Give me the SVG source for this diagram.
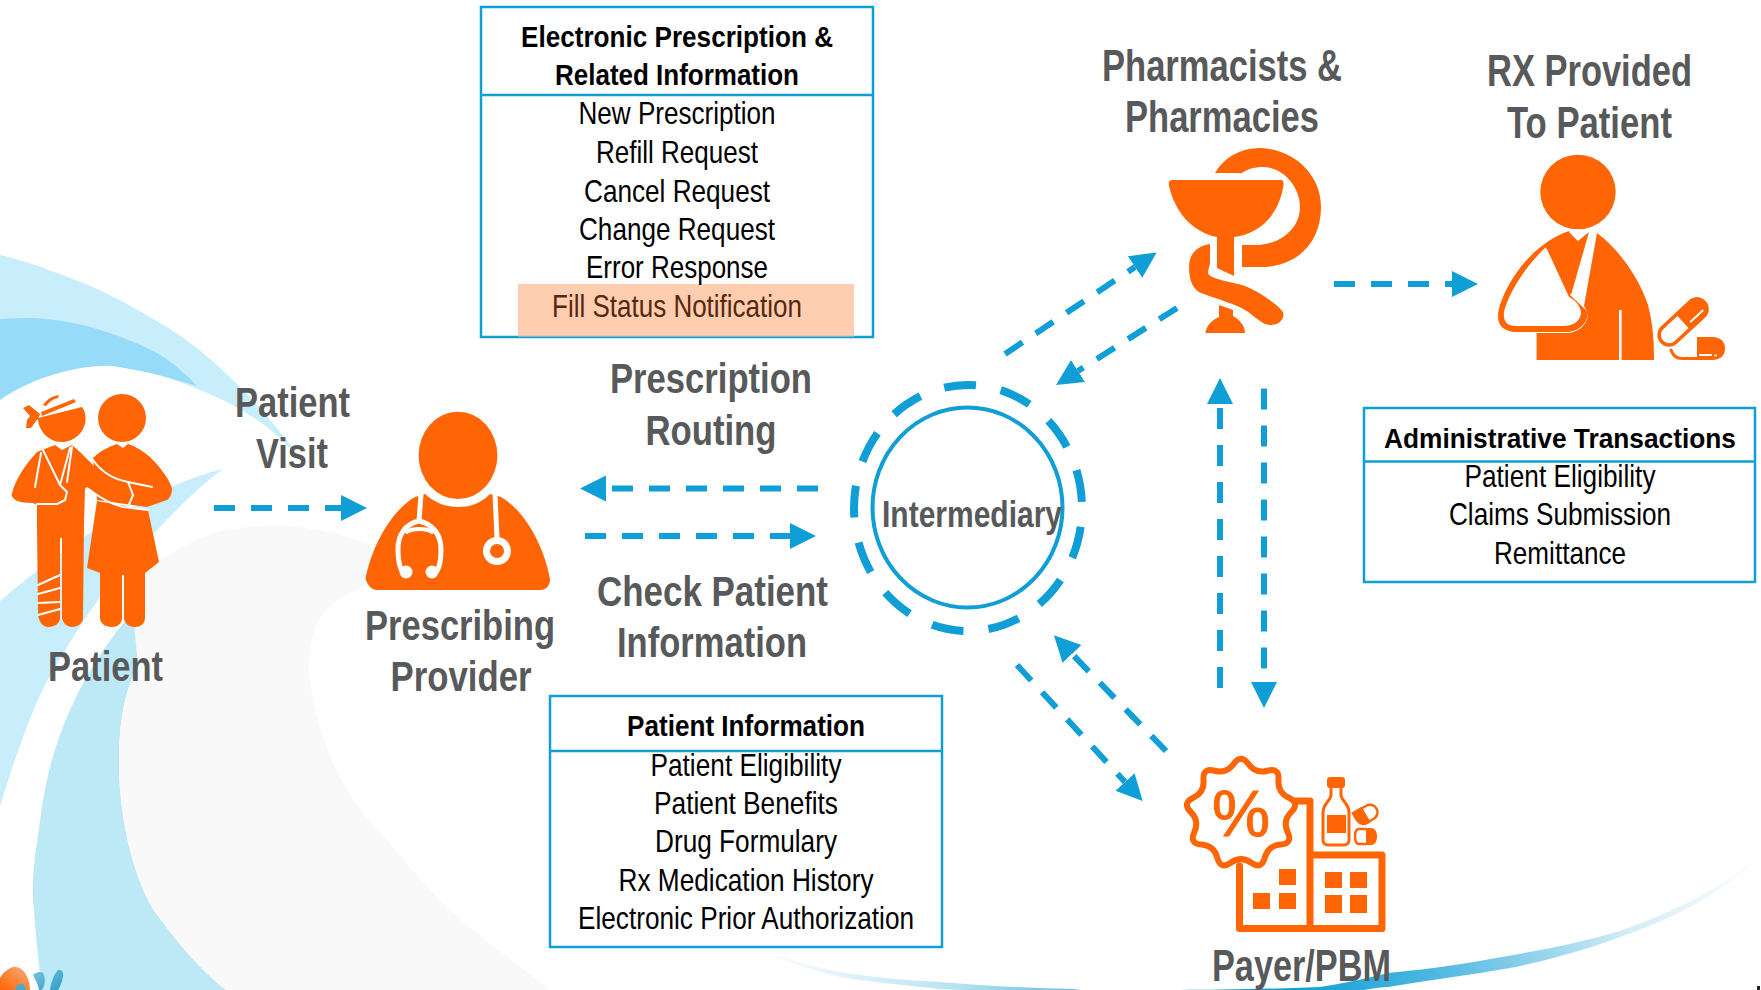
<svg xmlns="http://www.w3.org/2000/svg" width="1761" height="990" viewBox="0 0 1761 990">
<style>
text{font-family:"Liberation Sans",Arial,sans-serif;text-anchor:middle}
.lbl{font-weight:700;font-size:42px;fill:#58595b}
.tall{font-size:45px}
.hd{font-weight:700;font-size:30px;fill:#000}
.it{font-size:32px;fill:#000}
.box{fill:#fff;stroke:#0f9ed5;stroke-width:2.5}
.rule{stroke:#0f9ed5;stroke-width:2.5;fill:none}
.ic{fill:#ff6505}
.icl{fill:none;stroke:#ff6505;stroke-linejoin:round;stroke-linecap:round}
.wl{fill:none;stroke:#fff;stroke-linecap:round;stroke-linejoin:round}
.arr{fill:none;stroke:#0f9ed5;stroke-width:6;stroke-dasharray:21 16;marker-end:url(#head)}
</style>
<defs>
<marker id="head" markerUnits="userSpaceOnUse" markerWidth="28" markerHeight="28" refX="0" refY="13" orient="auto"><path d="M0 0L26 13L0 26Z" fill="#0f9ed5"/></marker>
<linearGradient id="sw" gradientUnits="userSpaceOnUse" x1="1761" y1="855" x2="1200" y2="990"><stop offset="0" stop-color="#fff"/><stop offset=".25" stop-color="#d4edf7"/><stop offset=".6" stop-color="#4db7e0"/><stop offset=".85" stop-color="#0f9ed5"/><stop offset="1" stop-color="#0f9ed5"/></linearGradient>
<linearGradient id="sw2" gradientUnits="userSpaceOnUse" x1="760" y1="950" x2="1100" y2="990"><stop offset="0" stop-color="#fff"/><stop offset=".6" stop-color="#b5e1f2"/><stop offset="1" stop-color="#4db7e0"/></linearGradient>
<linearGradient id="lg" x1="0" y1="0" x2="1" y2="1"><stop offset="0" stop-color="#7cc4de"/><stop offset="1" stop-color="#2b9cc8"/></linearGradient>
<linearGradient id="og" x1="1" y1="0" x2="0" y2="1"><stop offset="0" stop-color="#f8ad7c"/><stop offset="1" stop-color="#ff6505"/></linearGradient>
</defs>
<g id="background">
<path fill="#c8eefc" d="M0 255C30 262 55 272 83 283C110 294 135 308 160 323C190 340 212 360 233 380C260 405 290 445 313 473C300 460 285 441 267 427C245 411 225 400 200 390C170 378 140 366 113 366C85 364 35 375 0 400Z"/>
<path fill="#96dcf8" d="M0 319C12 318 22 318 33 318C55 319 78 323 100 330C120 336 140 344 157 353C172 362 186 374 197 386C182 381 166 377 150 373C137 370 125 368 112 366C85 364 35 375 0 400Z"/>
<path fill="#c8eefc" d="M223 469C150 486 60 550 0 601V807C8 780 30 710 50 676C65 650 80 625 96 603C120 570 180 500 223 469Z"/>
<path fill="#bde8f6" d="M222 546C190 560 170 572 153 589C115 630 95 660 77 695C50 750 44 790 38 836C32 870 32 900 34 909C36 945 40 970 42 990H226C200 970 175 940 153 909C130 870 119 810 119 763C119 720 125 690 138 666C150 640 180 590 222 546Z"/>
<path fill="#f9f9f9" d="M130 579C160 560 190 540 214 533C240 526 260 526 279 526C310 526 345 535 371 545V584C340 595 318 610 312 640C308 660 308 670 310 681C315 715 325 745 333 763C345 790 365 818 383 836C410 865 435 900 459 918C490 945 525 970 551 990H226C200 970 175 940 153 909C130 870 119 810 119 763C119 720 125 690 138 666Z"/>
<path fill="url(#sw)" d="M1761 853C1720 890 1680 908 1631 927C1590 942 1530 952 1485 960C1450 966 1420 970 1388 973C1360 980 1340 984 1320 987C1270 989 1220 990 1180 990H1364C1375 988 1382 987 1388 987C1430 980 1470 975 1510 968C1560 958 1600 945 1631 933C1690 912 1730 885 1761 857Z"/>
<path fill="url(#sw2)" d="M760 950C790 960 815 967 840 972C875 978 905 980 940 982C985 986 1030 988 1073 989L1080 990H960L940 989C905 985 870 982 840 977C810 970 785 960 760 950Z"/>
<path fill="url(#og)" d="M0 978C5 970 12 966 16 967C24 968 30 978 30 990H0Z"/>
<path fill="#4da9cc" d="M15 990C16 986 19 983 23 984C25 986 26 988 26 990Z"/>
<path fill="url(#lg)" d="M33 975C36 972 41 971 43 973C46 978 45 985 42 990H39C38 984 35 979 33 975ZM50 990C51 982 54 974 58 970C62 969 64 973 63 977C62 982 60 987 58 990Z"/>
<rect x="1757" y="986" width="3" height="4" fill="#222"/>
</g>
<g id="box-prescription">
<rect class="box" x="481" y="7" width="392" height="330"/>
<path class="rule" d="M481 95H873"/>
<rect x="518" y="284" width="336" height="53" fill="#ffcdb0"/>
<path d="M518 336.500H854" stroke="#0f9ed5" stroke-opacity=".5" stroke-width="1.500"/>
<text class="hd" x="677" y="47" textLength="312" lengthAdjust="spacingAndGlyphs">Electronic Prescription &amp;</text>
<text class="hd" x="677" y="85" textLength="244" lengthAdjust="spacingAndGlyphs">Related Information</text>
<text class="it" x="677" y="124" textLength="197" lengthAdjust="spacingAndGlyphs">New Prescription</text>
<text class="it" x="677" y="162.500" textLength="162" lengthAdjust="spacingAndGlyphs">Refill Request</text>
<text class="it" x="677" y="202" textLength="186" lengthAdjust="spacingAndGlyphs">Cancel Request</text>
<text class="it" x="677" y="240" textLength="196" lengthAdjust="spacingAndGlyphs">Change Request</text>
<text class="it" x="677" y="278" textLength="182" lengthAdjust="spacingAndGlyphs">Error Response</text>
<text class="it" x="677" y="317" textLength="250" lengthAdjust="spacingAndGlyphs" style="fill:#56280c">Fill Status Notification</text>
</g>
<g id="box-admin">
<rect class="box" x="1364" y="408" width="391" height="174"/>
<path class="rule" d="M1364 461.500H1755"/>
<text class="hd" x="1560" y="448" textLength="352" lengthAdjust="spacingAndGlyphs" style="font-size:28px">Administrative Transactions</text>
<text class="it" x="1560" y="487" textLength="191" lengthAdjust="spacingAndGlyphs">Patient Eligibility</text>
<text class="it" x="1560" y="525" textLength="222" lengthAdjust="spacingAndGlyphs">Claims Submission</text>
<text class="it" x="1560" y="564" textLength="132" lengthAdjust="spacingAndGlyphs">Remittance</text>
</g>
<g id="box-patient-info">
<rect class="box" x="550" y="696" width="392" height="251"/>
<path class="rule" d="M551 751H943"/>
<text class="hd" x="746" y="736" textLength="238" lengthAdjust="spacingAndGlyphs">Patient Information</text>
<text class="it" x="746" y="776" textLength="191" lengthAdjust="spacingAndGlyphs">Patient Eligibility</text>
<text class="it" x="746" y="814" textLength="184" lengthAdjust="spacingAndGlyphs">Patient Benefits</text>
<text class="it" x="746" y="852" textLength="182" lengthAdjust="spacingAndGlyphs">Drug Formulary</text>
<text class="it" x="746" y="891" textLength="255" lengthAdjust="spacingAndGlyphs">Rx Medication History</text>
<text class="it" x="746" y="929" textLength="336" lengthAdjust="spacingAndGlyphs">Electronic Prior Authorization</text>
</g>
<g id="patient">
<path class="ic" d="M38 418L82 407C85 411 85.500 415 85.500 419C85.500 432 74 442 61.500 442C49 442 38 431 38 418Z"/>
<path class="ic" d="M23 408L29 405L40 414L38 419L36 421L31 428L26 428L27 420L30 416Z"/>
<path class="ic" d="M41 412L74 399L76 402L42 416ZM43 405C46 400 52 396 59 395L58 398C53 399 49 402 46 406Z"/>
<circle class="ic" cx="122" cy="418" r="24"/>
<path class="ic" d="M93 458C100 451 108 447 117 444L123 448L128 444C137 447 144 452 150 457C160 467 168 477 172 488C172 494 170 498 167 500L147 507L97 500Z"/>
<path class="ic" d="M97 501L148 510L159 562L145 573V618C145 624 140 627 135 627C129 627 124 623 124 618V575H122V618C122 624 117 627 112 627C105 627 100 623 100 618V573L87 568Z"/>
<path class="ic" d="M37 452C25 465 15 480 11.500 495C13 500 18 503 33 503L37 505V525L38 615C39 622 43 627 48 627C55 627 60 623 60 618V538H62V618C63 623 67 627 72 627C78 627 83 623 83 618L84 525L85 488L100 497C110 500 116 503 123 503C128 502 130 498 130 496L128 488C117 484 108 479 100 472L80 452L72 445L62 450L55 445Z"/>
<path class="wl" stroke-width="2" d="M41 453L35 487M43 450L60 485L70 448M72 447L67 482M60 485L67 492L65 500L57 504H37M93 460C100 470 112 479 128 482L152 487M128 482L133 495L128 507M87 488C100 498 110 504 123 507L148 510"/>
<path class="wl" stroke-width="2" d="M38 585L60 575M38 594L60 588M38 603L60 602M38 615L60 609"/>
</g>
<g id="prescribing-provider">
<ellipse class="ic" cx="458" cy="455.400" rx="39.400" ry="43.600"/>
<path class="ic" d="M415 497C392 510 372 545 365.500 579C368 586 372 590 377 590H540C546 590 550 586 550 579C544 545 524 510 501 497L490 494C480 504 470 507 458 507C446 507 435 503 425 494Z"/>
<path class="wl" stroke-width="5" d="M421 494L419 521C405 524 398 535 398 549C398 558 399 566 402 571M419 521C433 524 441 535 441 549C441 558 440 566 437 571"/>
<path d="M407 532C412 528 427 528 432 532" class="wl" stroke-width="4"/>
<circle cx="406" cy="572" r="6.500" fill="#fff"/><circle cx="432" cy="572" r="6.500" fill="#fff"/>
<path class="wl" stroke-width="5" d="M495 494L497 538"/>
<circle cx="497" cy="551" r="10.500" fill="#ff6505" stroke="#fff" stroke-width="7"/>
</g>
<g id="pharmacists">
<path class="ic" d="M1172 180H1281C1284 180 1284 184 1283 188C1278 215 1260 234 1234 237V276L1217 268V237C1192 232 1175 212 1169 186C1168 182 1170 180 1172 180Z"/>
<path class="ic" d="M1215 173C1225 156 1242 148 1261 148C1296 150 1321 176 1321 207C1321 240 1300 267 1260 267H1242V245H1259C1282 243 1300 228 1300 207C1300 186 1282 167 1263 167C1254 167 1248 169 1242 173Z"/>
<path class="ic" d="M1210 244C1196 246 1189 255 1189 267C1189 282 1194 290 1201 293C1220 300 1235 304 1245 310C1255 316 1262 325 1270 325C1280 325 1285 318 1283 312C1278 305 1260 292 1245 286C1232 282 1215 280 1209 275C1207 272 1209 268 1210 264Z"/>
<path class="ic" d="M1219 305L1233 310V316C1240 320 1245 326 1245 333H1205.500C1206 326 1212 320 1219 317Z"/>
</g>
<g id="rx-patient">
<ellipse class="ic" cx="1578" cy="192" rx="37.700" ry="37.300"/>
<path class="ic" d="M1569 231C1535 243 1510 275 1500 305C1496 318 1497 330 1514 332H1566C1580 332 1588 322 1588 312L1570 295Z"/>
<path fill="#fff" d="M1546 247C1522 270 1508 295 1504 312C1503 322 1507 326 1516 326H1562C1575 326 1581 320 1581 312C1580 305 1575 300 1569 297Z"/>
<path class="ic" d="M1597 233C1620 250 1640 280 1648 305C1653 325 1654 340 1654 360H1621.600V310H1619V360H1536.600V333H1566C1578 333 1588 325 1588 313L1584 306Z"/>
<path class="ic" d="M1569 232L1578 241L1589 232L1571 295L1546 247Z"/>
<g transform="translate(1683 322) rotate(-43)"><rect x="-29" y="-10" width="58" height="20" rx="10" fill="#fff" stroke="#ff6505" stroke-width="3.500"/><path class="ic" d="M0 -11.500H19C26 -11.500 30.500 -6 30.500 0C30.500 6 26 11.500 19 11.500H0Z"/><path class="wl" stroke-width="2" d="M6 5H22"/></g>
<path class="ic" d="M1697 337H1712C1721 337 1725 342 1725 348.500C1725 355 1721 360 1712 360H1697Z"/>
<path class="wl" stroke-width="2" d="M1700 355H1711M1715 355.500H1716"/>
<path class="icl" stroke-width="3" d="M1671 350C1673 356 1677 358.500 1682 358.500H1697"/>
</g>
<g id="intermediary">
<ellipse cx="967.500" cy="507.500" rx="95" ry="100" fill="none" stroke="#0f9ed5" stroke-width="4"/>
<ellipse cx="968" cy="508" rx="114" ry="123" fill="none" stroke="#0f9ed5" stroke-width="8" pathLength="13" stroke-dasharray="0.560 0.440" stroke-dashoffset="-0.330"/>
<text class="lbl" x="972" y="527" textLength="180" lengthAdjust="spacingAndGlyphs" style="font-size:37px">Intermediary</text>
</g>
<g id="payer">
<path class="icl" stroke-width="7" d="M1239.500 866V928.500H1382V855H1310V801H1296M1310 855V928.500"/>
<path class="icl" stroke-width="6" fill="#fff" d="M1233.800 763.750Q1241 753.500 1248.200 763.750Q1255.400 774 1267.500 770.750Q1279.600 767.500 1278.500 780Q1277.400 792.500 1288.750 797.800Q1300.100 803.100 1291.250 812Q1282.400 820.800 1287.700 832.150Q1293 843.500 1280.500 844.600Q1268 845.700 1264.750 857.800Q1261.500 869.900 1251.250 862.700Q1241 855.500 1230.750 862.700Q1220.500 869.900 1217.250 857.800Q1214 845.700 1201.500 844.600Q1189 843.500 1194.300 832.150Q1199.600 820.800 1190.750 812Q1181.900 803.100 1193.250 797.800Q1204.600 792.500 1203.500 780Q1202.400 767.500 1214.500 770.750Q1226.600 774 1233.800 763.750Z"/>
<text x="1241" y="836" textLength="58" lengthAdjust="spacingAndGlyphs" style="font-size:65px;fill:#ff6505;stroke:#ff6505;stroke-width:1">%</text>
<path class="ic" d="M1279 869h17v16h-17zM1253 893h17v16h-17zM1279 893h17v16h-17zM1325 872h17v16h-17zM1350 872h17v16h-17zM1325 895h17v18h-17zM1350 895h17v18h-17z"/>
<rect class="ic" x="1327" y="777" width="18" height="11" rx="3"/>
<path class="icl" stroke-width="3" d="M1331 788V795C1331 800 1323 804 1323 812V840C1323 843 1325 845 1328 845H1344C1347 845 1349 843 1349 840V812C1349 804 1341 800 1341 795V788"/>
<rect class="ic" x="1327" y="815" width="19" height="18"/>
<g transform="translate(1367 814) rotate(-30)"><rect x="-11" y="-7.500" width="22" height="15" rx="7.500" fill="#fff" stroke="#ff6505" stroke-width="2.500"/><path class="ic" d="M-13 -9H-1V9H-5C-10 9 -13 4 -13 0Z"/></g>
<path class="ic" d="M1366 828H1371C1375 828 1377 832 1377 836.500C1377 841 1375 845 1371 845H1366Z"/>
<path class="icl" stroke-width="2.500" d="M1366 829H1359C1356 829 1355 832 1355 836.500C1355 841 1356 844 1359 844H1366"/>
</g>
<g id="connectors">
<path class="arr" d="M214 508H341"/>
<path class="arr" d="M818 488.500H606"/>
<path class="arr" d="M585 536H790"/>
<path class="arr" d="M1005 354L1135 267"/>
<path class="arr" d="M1177 308L1078 371"/>
<path class="arr" d="M1334 284H1452"/>
<path class="arr" d="M1220 688V404"/>
<path class="arr" d="M1264 388.500V682"/>
<path class="arr" d="M1166 751L1072 654"/>
<path class="arr" d="M1017 665L1125 782"/>
</g>
<g id="labels">
<text class="lbl" x="292.500" y="417" textLength="115" lengthAdjust="spacingAndGlyphs">Patient</text>
<text class="lbl" x="292" y="467.500" textLength="72" lengthAdjust="spacingAndGlyphs">Visit</text>
<text class="lbl" x="105.500" y="681" textLength="115" lengthAdjust="spacingAndGlyphs">Patient</text>
<text class="lbl" x="460" y="640" textLength="190" lengthAdjust="spacingAndGlyphs">Prescribing</text>
<text class="lbl" x="461" y="690.500" textLength="141" lengthAdjust="spacingAndGlyphs">Provider</text>
<text class="lbl" x="711" y="393" textLength="202" lengthAdjust="spacingAndGlyphs">Prescription</text>
<text class="lbl" x="711" y="445" textLength="131" lengthAdjust="spacingAndGlyphs">Routing</text>
<text class="lbl" x="712.500" y="606" textLength="231" lengthAdjust="spacingAndGlyphs">Check Patient</text>
<text class="lbl" x="712" y="657" textLength="190" lengthAdjust="spacingAndGlyphs">Information</text>
<text class="lbl tall" x="1222" y="81" textLength="240" lengthAdjust="spacingAndGlyphs">Pharmacists &amp;</text>
<text class="lbl tall" x="1222" y="132" textLength="194" lengthAdjust="spacingAndGlyphs">Pharmacies</text>
<text class="lbl tall" x="1589.500" y="86" textLength="205" lengthAdjust="spacingAndGlyphs">RX Provided</text>
<text class="lbl tall" x="1589.500" y="138" textLength="165" lengthAdjust="spacingAndGlyphs">To Patient</text>
<text class="lbl tall" x="1301.500" y="981" textLength="179" lengthAdjust="spacingAndGlyphs">Payer/PBM</text>
</g>
</svg>
